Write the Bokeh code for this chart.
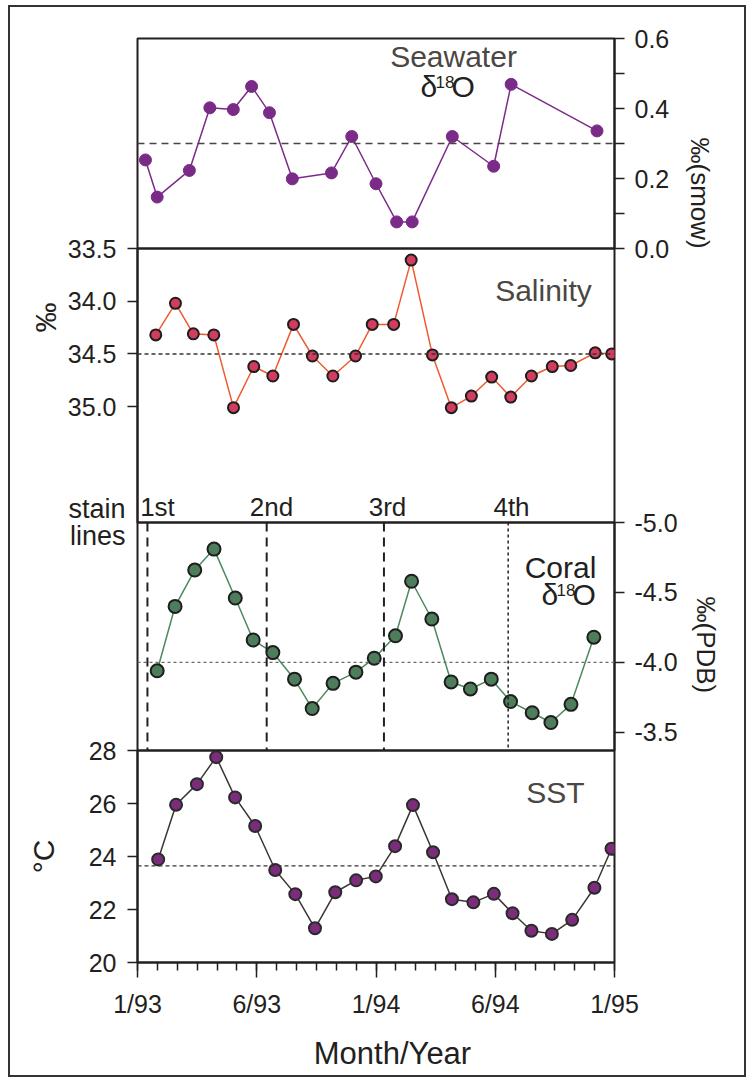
import math
from bokeh.plotting import figure
from bokeh.models import (Range1d, LinearAxis, FixedTicker, NumeralTickFormatter,
                          Label, Span, ColumnDataSource, Title)
from bokeh.layouts import column
from bokeh.embed import file_html
from bokeh.resources import INLINE

# ---------------- data (months after 1/93) ----------------
sw_month = [0.40, 0.99, 2.61, 3.64, 4.82, 5.74, 6.64, 7.79, 9.76, 10.78, 12.0, 13.04, 13.82, 15.84, 17.92, 18.8, 23.12]
sw_d18o = [0.253, 0.147, 0.223, 0.402, 0.397, 0.463, 0.388, 0.199, 0.216, 0.320, 0.185, 0.076, 0.076, 0.320, 0.235, 0.469, 0.336]
sw_ref = 0.3
sw_ticks = [0.0, 0.2, 0.4, 0.6]
sw_minor = [0.1, 0.3, 0.5]

sal_month = [0.92, 1.91, 2.81, 3.84, 4.83, 5.85, 6.81, 7.85, 8.80, 9.83, 10.97, 11.81,
             12.89, 13.77, 14.84, 15.79, 16.80, 17.82, 18.78, 19.82, 20.87, 21.80, 23.03, 23.86]
salinity = [34.32, 34.02, 34.31, 34.32, 35.01, 34.62, 34.71, 34.22, 34.52, 34.71, 34.52, 34.22,
            34.22, 33.61, 34.51, 35.01, 34.90, 34.72, 34.91, 34.71, 34.62, 34.61, 34.49, 34.50]
sal_ref = 34.5
sal_ticks = [33.5, 34.0, 34.5, 35.0]

coral_month = [0.99, 1.89, 2.88, 3.85, 4.92, 5.82, 6.81, 7.90, 8.79, 9.84, 10.99, 11.91,
               12.98, 13.79, 14.81, 15.78, 16.75, 17.80, 18.77, 19.86, 20.80, 21.81, 22.96]
coral_d18o = [-3.94, -4.40, -4.66, -4.81, -4.46, -4.16, -4.07, -3.88, -3.67, -3.85, -3.93, -4.03,
              -4.19, -4.58, -4.31, -3.86, -3.81, -3.88, -3.72, -3.64, -3.57, -3.70, -4.18]
coral_ref = -4.0
coral_ticks = [-5.0, -4.5, -4.0, -3.5]

sst_month = [1.04, 1.94, 2.99, 3.96, 4.91, 5.92, 6.93, 7.94, 8.93, 9.95, 11.0, 11.99,
             12.96, 13.86, 14.87, 15.82, 16.90, 17.93, 18.87, 19.82, 20.85, 21.87, 22.99, 23.85]
sst = [23.89, 25.95, 26.73, 27.75, 26.23, 25.15, 23.49, 22.58, 21.29, 22.65, 23.10, 23.25,
       24.39, 25.94, 24.16, 22.39, 22.27, 22.59, 21.86, 21.20, 21.08, 21.61, 22.82, 24.29]
sst_ref = 23.65
sst_ticks = [20, 22, 24, 26, 28]

stain_month = [0.5, 6.5, 12.4, 18.65]
stain_names = ["1st", "2nd", "3rd", "4th"]
stain_title = "stain\nlines"

month_ticks = [0, 6, 12, 18, 24]
month_minor = list(range(0, 25))
month_labels = ["1/93", "6/93", "1/94", "6/94", "1/95"]
x_title = "Month/Year"

# ---------------- layout helpers ----------------
FONT = "Liberation Sans"
INK = "#231f20"
GREY_TXT = "#4b4742"
PAD = 40
X0, Y0 = 10, 7              # content origin on the page (after margin + border)
FR_L, FR_R = 137, 614       # frame left / right on page
PANELS = {"sw": (38, 248), "sal": (248, 522), "coral": (522, 750), "sst": (750, 962)}

x_range = (0, 24)
ranges = {
    "sw": (0.0, 0.6),          # (bottom value, top value)
    "sal": (36.1, 33.5),
    "coral": (-3.37, -5.0),
    "sst": (20.0, 28.0),
}


def xd(px):
    return x_range[0] + (px - FR_L) / (FR_R - FR_L) * (x_range[1] - x_range[0])


def yd(py, panel):
    top, bot = PANELS[panel]
    lo, hi = ranges[panel]
    return hi + (py - top) / (bot - top) * (lo - hi)


def make_fig(panel, top, bottom, margin_top):
    t, b = PANELS[panel]
    lo, hi = ranges[panel]
    p = figure(x_range=Range1d(*x_range), y_range=Range1d(lo, hi),
               frame_width=FR_R - FR_L, frame_height=b - t,
               min_border_left=FR_L - X0, min_border_right=744 - FR_R,
               min_border_top=top, min_border_bottom=bottom,
               x_axis_location=None, y_axis_location=None,
               output_backend="svg", toolbar_location=None,
               border_fill_color=None, background_fill_color=None,
               outline_line_color=INK, outline_line_width=2)
    p.grid.visible = False
    p.margin = (margin_top, 0, 0, 0)
    return p


def style_axis(ax):
    ax.axis_line_color = INK
    ax.axis_line_width = 2
    ax.major_tick_line_color = INK
    ax.major_tick_line_width = 1.5
    ax.minor_tick_line_color = INK
    ax.minor_tick_line_width = 1.5
    ax.major_tick_in = 0
    ax.minor_tick_in = 0
    ax.major_label_text_font = FONT
    ax.major_label_text_font_size = "25px"
    ax.major_label_text_color = INK
    ax.axis_label_text_font = FONT
    ax.axis_label_text_font_style = "normal"
    ax.axis_label_text_color = INK
    return ax


def caption_axis(tick, text, size, standoff):
    # an axis without line or tick marks that only carries one caption
    a = style_axis(LinearAxis(ticker=FixedTicker(ticks=[tick]),
                              major_label_overrides={tick: text}))
    a.axis_line_color = None
    a.major_tick_line_color = None
    a.major_tick_out = 0
    a.major_label_standoff = standoff
    a.major_label_text_font_size = f"{size}px"
    return a


def side_title(p, text, side, size, offset, standoff):
    p.add_layout(Title(text=text, align="left", offset=offset, standoff=standoff,
                       text_font=FONT, text_font_size=f"{size}px", text_font_style="normal",
                       text_color=INK), side)


def lab(p, px, py, panel, text, size, color=INK, align="center", baseline="middle"):
    p.add_layout(Label(x=xd(px), y=yd(py, panel), text=text, text_font=FONT,
                       text_font_size=f"{size}px", text_color=color, text_align=align,
                       text_baseline=baseline))


def d18o(p, px, py_mid, panel, color=INK):
    # delta, superscript 18, O
    lab(p, px, py_mid, panel, "δ", 30, color, align="left")
    lab(p, px + 15, py_mid - 5, panel, "18", 17, color, align="left")
    lab(p, px + 31, py_mid, panel, "O", 30, color, align="left")


# ---------------- seawater d18O ----------------
p1 = make_fig("sw", 38 - Y0, PAD, 0)
ax = style_axis(LinearAxis(ticker=FixedTicker(ticks=sw_ticks, minor_ticks=sw_minor),
                           formatter=NumeralTickFormatter(format="0.0")))
ax.major_tick_out = 10
ax.minor_tick_out = 10
ax.major_label_standoff = 10
p1.add_layout(ax, "right")
side_title(p1, "‰(smow)", "right", 26, 99, 24)
p1.add_layout(Span(location=sw_ref, dimension="width", line_color="#4a4540",
                   line_dash="7 5", line_width=1.5))
s1 = ColumnDataSource(dict(x=sw_month, y=sw_d18o))
p1.line("x", "y", source=s1, line_color="#7a2b88", line_width=1.5)
p1.scatter("x", "y", source=s1, size=12, fill_color="#7a2b88", line_color="#7a2b88", line_width=1)
lab(p1, 453, 56, "sw", "Seawater", 30, GREY_TXT)
d18o(p1, 420, 86, "sw")

# ---------------- salinity ----------------
p2 = make_fig("sal", PAD, PAD, -2 * PAD)
ax = style_axis(LinearAxis(ticker=FixedTicker(ticks=sal_ticks),
                           formatter=NumeralTickFormatter(format="0.0")))
ax.major_tick_out = 10
ax.major_label_standoff = 11
p2.add_layout(ax, "left")
side_title(p2, "‰", "left", 30, 190, 6)
p2.add_layout(Span(location=sal_ref, dimension="width", line_color="#333333",
                   line_dash="4 3", line_width=1.5))
s2 = ColumnDataSource(dict(x=sal_month, y=salinity))
p2.line("x", "y", source=s2, line_color="#ef5a2f", line_width=1.5)
p2.scatter("x", "y", source=s2, size=11, fill_color="#d23c5e", line_color="#1e1e1e", line_width=2)
lab(p2, 543, 290, "sal", "Salinity", 30, GREY_TXT)
for name, cx in zip(stain_names, [157, 271, 387, 511]):
    lab(p2, cx, 506, "sal", name, 26, INK)

# ---------------- coral d18O ----------------
p3 = make_fig("coral", PAD, PAD, -2 * PAD)
ax = style_axis(LinearAxis(ticker=FixedTicker(ticks=coral_ticks),
                           formatter=NumeralTickFormatter(format="0.0")))
ax.major_tick_out = 10
ax.major_label_standoff = 10
p3.add_layout(ax, "right")
side_title(p3, "‰(PDB)", "right", 26, 74, 20)
sx = caption_axis(coral_ticks[0], stain_title, 27, 12)
sx.major_label_text_line_height = 0.9
p3.add_layout(sx, "left")
p3.add_layout(Span(location=coral_ref, dimension="width", line_color="#6a6a6a",
                   line_dash="3 3", line_width=1.3))
for i, m in enumerate(stain_month):
    last = i == len(stain_month) - 1
    p3.add_layout(Span(location=m, dimension="height", line_color=INK,
                       line_dash="3 3" if last else "9 6", line_width=1.5 if last else 2))
s3 = ColumnDataSource(dict(x=coral_month, y=coral_d18o))
p3.line("x", "y", source=s3, line_color="#4a8a5c", line_width=1.5)
p3.scatter("x", "y", source=s3, size=13, fill_color="#4e7d5b", line_color="#1e1e1e", line_width=2)
lab(p3, 560, 567, "coral", "Coral", 30, INK)
d18o(p3, 541, 594, "coral")

# ---------------- SST ----------------
p4 = make_fig("sst", PAD, 1075 - 962, -2 * PAD)
ax = style_axis(LinearAxis(ticker=FixedTicker(ticks=sst_ticks), axis_label="°C"))
ax.major_tick_out = 10
ax.major_label_standoff = 11
ax.axis_label_standoff = 26
ax.axis_label_text_font_size = "30px"
p4.add_layout(ax, "left")
bx = style_axis(LinearAxis(ticker=FixedTicker(ticks=month_ticks, minor_ticks=month_minor),
                           major_label_overrides=dict(zip(month_ticks, month_labels))))
bx.major_tick_out = 15
bx.minor_tick_out = 8
bx.major_label_standoff = 12
p4.add_layout(bx, "below")
p4.add_layout(caption_axis(xd(392), x_title, 31, 15), "below")
p4.add_layout(Span(location=sst_ref, dimension="width", line_color="#333333",
                   line_dash="4 3", line_width=1.2))
s4 = ColumnDataSource(dict(x=sst_month, y=sst))
p4.line("x", "y", source=s4, line_color="#3b3632", line_width=1.5)
p4.scatter("x", "y", source=s4, size=12, fill_color="#7b2c7a", line_color="#2a2a2a", line_width=2)
lab(p4, 555, 792, "sst", "SST", 30, GREY_TXT)

layout = column(p1, p2, p3, p4, spacing=0, margin=(5, 0, 0, 8),
                styles={"border": "2px solid #333333"})

open("out.html", "w").write(file_html(layout, INLINE))
